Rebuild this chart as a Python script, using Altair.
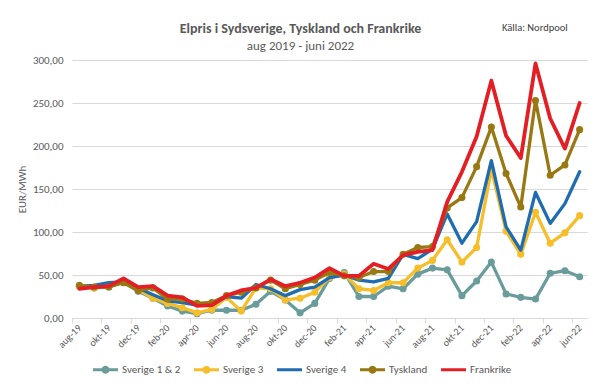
import altair as alt
import pandas as pd

FONT = "Carlito, Lato, sans-serif"

months = ["aug-19", "sep-19", "okt-19", "nov-19", "dec-19",
          "jan-20", "feb-20", "mar-20", "apr-20", "maj-20", "jun-20", "jul-20",
          "aug-20", "sep-20", "okt-20", "nov-20", "dec-20",
          "jan-21", "feb-21", "mar-21", "apr-21", "maj-21", "jun-21", "jul-21",
          "aug-21", "sep-21", "okt-21", "nov-21", "dec-21",
          "jan-22", "feb-22", "mar-22", "apr-22", "maj-22", "jun-22"]

sverige12 = [37, 35, 36, 42, 31, 23, 14, 8, 5, 9, 9, 9, 16, 31, 21, 6, 17,
             46, 53, 25, 25, 37, 34, 51, 58, 56, 26, 43, 65, 28, 24, 22, 52, 55, 48]
sverige3 = [37, 35, 38, 42, 33, 23, 17, 12, 6, 10, 24, 8, 35, 34, 21, 23, 30,
            47, 51, 34, 32, 41, 41, 58, 67, 91, 65, 82, 173, 101, 74, 123, 87, 99, 119]
sverige4 = [37, 38, 41, 42, 35, 27, 20, 18, 15, 15, 25, 23, 39, 34, 26, 33, 36,
            47, 50, 44, 42, 46, 74, 69, 80, 121, 87, 112, 183, 106, 79, 146, 110, 133, 170]
tyskland = [38, 36, 36, 41, 32, 35, 22, 22, 17, 18, 26, 30, 35, 44, 34, 39, 44,
            53, 49, 47, 54, 54, 74, 82, 83, 128, 140, 176, 222, 168, 129, 253, 166, 178, 219]
frankrike = [34, 36, 37, 46, 36, 37, 26, 24, 14, 15, 26, 32, 35, 45, 37, 41, 47,
             58, 49, 49, 63, 57, 73, 77, 79, 135, 170, 211, 276, 212, 186, 296, 232, 197, 250]

series_names = ["Sverige 1 & 2", "Sverige 3", "Sverige 4", "Tyskland", "Frankrike"]
series_values = [sverige12, sverige3, sverige4, tyskland, frankrike]
series_colors = ["#6A9C9C", "#F5BE2A", "#1F6DB0", "#987812", "#E31E24"]
series_markers = [True, True, False, True, False]
series_widths = [3.3, 3.3, 3.3, 3.3, 3.8]

rows = []
for name, vals in zip(series_names, series_values):
    for i, (m, v) in enumerate(zip(months, vals)):
        rows.append({"idx": i, "month": m, "series": name, "value": v})
df = pd.DataFrame(rows)

# legend symbols: line only, and line with a dot
LINE = "M-1,-0.12L1,-0.12L1,0.12L-1,0.12Z"
DOT = ("M-1,-0.12L-0.2966,-0.12A0.32,0.32 0 0 1 0.2966,-0.12L1,-0.12L1,0.12"
       "L0.2966,0.12A0.32,0.32 0 0 1 -0.2966,0.12L-1,0.12Z")
shape_range = [DOT if m else LINE for m in series_markers]

label_list = "[" + ",".join("'" + m + "'" for m in months[::2]) + "]"
label_expr = label_list + "[round((datum.value + 0.5) / 2)]"

color_scale = alt.Scale(domain=series_names, range=series_colors)
shape_scale = alt.Scale(domain=series_names, range=shape_range)

x_enc = alt.X(
    "idx:Q",
    scale=alt.Scale(domain=[-0.5, 34.5], nice=False, zero=False),
    axis=alt.Axis(
        values=[-0.5 + 2 * k for k in range(18)],
        labelExpr=label_expr,
        labelAngle=-45,
        labelAlign="right",
        labelBaseline="middle",
        labelOffset=7.35,
        labelPadding=3,
        labelFontSize=10,
        labelColor="#595959",
        labelFont=FONT,
        grid=False,
        domainColor="#d9d9d9",
        tickColor="#d9d9d9",
        tickSize=5,
        title=None,
    ),
)
y_enc = alt.Y(
    "value:Q",
    scale=alt.Scale(domain=[0, 300], nice=False),
    axis=alt.Axis(
        values=[0, 50, 100, 150, 200, 250, 300],
        labelExpr="replace(format(datum.value, '.2f'), '.', ',')",
        domain=False,
        ticks=False,
        gridColor="#d9d9d9",
        labelPadding=9,
        labelFontSize=11,
        labelColor="#595959",
        labelFont=FONT,
        title="EUR/MWh",
        titleFont=FONT,
        titleFontSize=11,
        titleFontWeight="normal",
        titleColor="#595959",
        titlePadding=5,
    ),
)

base = alt.Chart(df)
layers = []
for name, col, mk, w in zip(series_names, series_colors, series_markers, series_widths):
    sub = base.transform_filter(alt.datum.series == name)
    layers.append(
        sub.mark_line(color=col, strokeWidth=w, strokeJoin="round", strokeCap="round").encode(
            x=x_enc, y=y_enc,
        )
    )
    if mk:
        layers.append(
            sub.mark_point(color=col, filled=True, opacity=1, size=50).encode(
                x=x_enc, y=y_enc,
            )
        )

leg = alt.Legend(
    title=None,
    orient="none",
    direction="horizontal",
    legendX=20,
    legendY=296,
    symbolSize=625,
    labelFont=FONT,
    labelFontSize=11,
    labelColor="#595959",
    labelOffset=3,
    columnPadding=12,
)
legend_layer = base.transform_filter("false").mark_point(filled=True, opacity=1).encode(
    x=x_enc, y=y_enc,
    color=alt.Color("series:N", scale=color_scale, legend=leg),
    shape=alt.Shape("series:N", scale=shape_scale, legend=leg),
)
layers.append(legend_layer)

source = alt.Chart(pd.DataFrame({"t": ["Källa: Nordpool"]})).mark_text(
    align="left", baseline="middle", fontSize=10.5, color="#404040", font=FONT
).encode(text="t:N", x=alt.value(430), y=alt.value(-32))
layers.append(source)

chart = alt.layer(*layers).properties(
    width=515,
    height=258,
    autosize=alt.AutoSizeParams(type="none"),
    padding={"left": 64, "top": 52, "right": 5, "bottom": 62},
    background="white",
    title=alt.TitleParams(
        text="Elpris i Sydsverige, Tyskland och Frankrike",
        subtitle="aug 2019 - juni 2022",
        anchor="middle",
        frame="group",
        dx=-29,
        offset=-30,
        font=FONT,
        fontSize=14,
        fontWeight="bold",
        color="#595959",
        subtitleFont=FONT,
        subtitleFontSize=13,
        subtitleColor="#595959",
        subtitlePadding=4,
    ),
).configure_view(stroke=None)

chart.save("out.html", embed_options={"renderer": "svg", "actions": False})
